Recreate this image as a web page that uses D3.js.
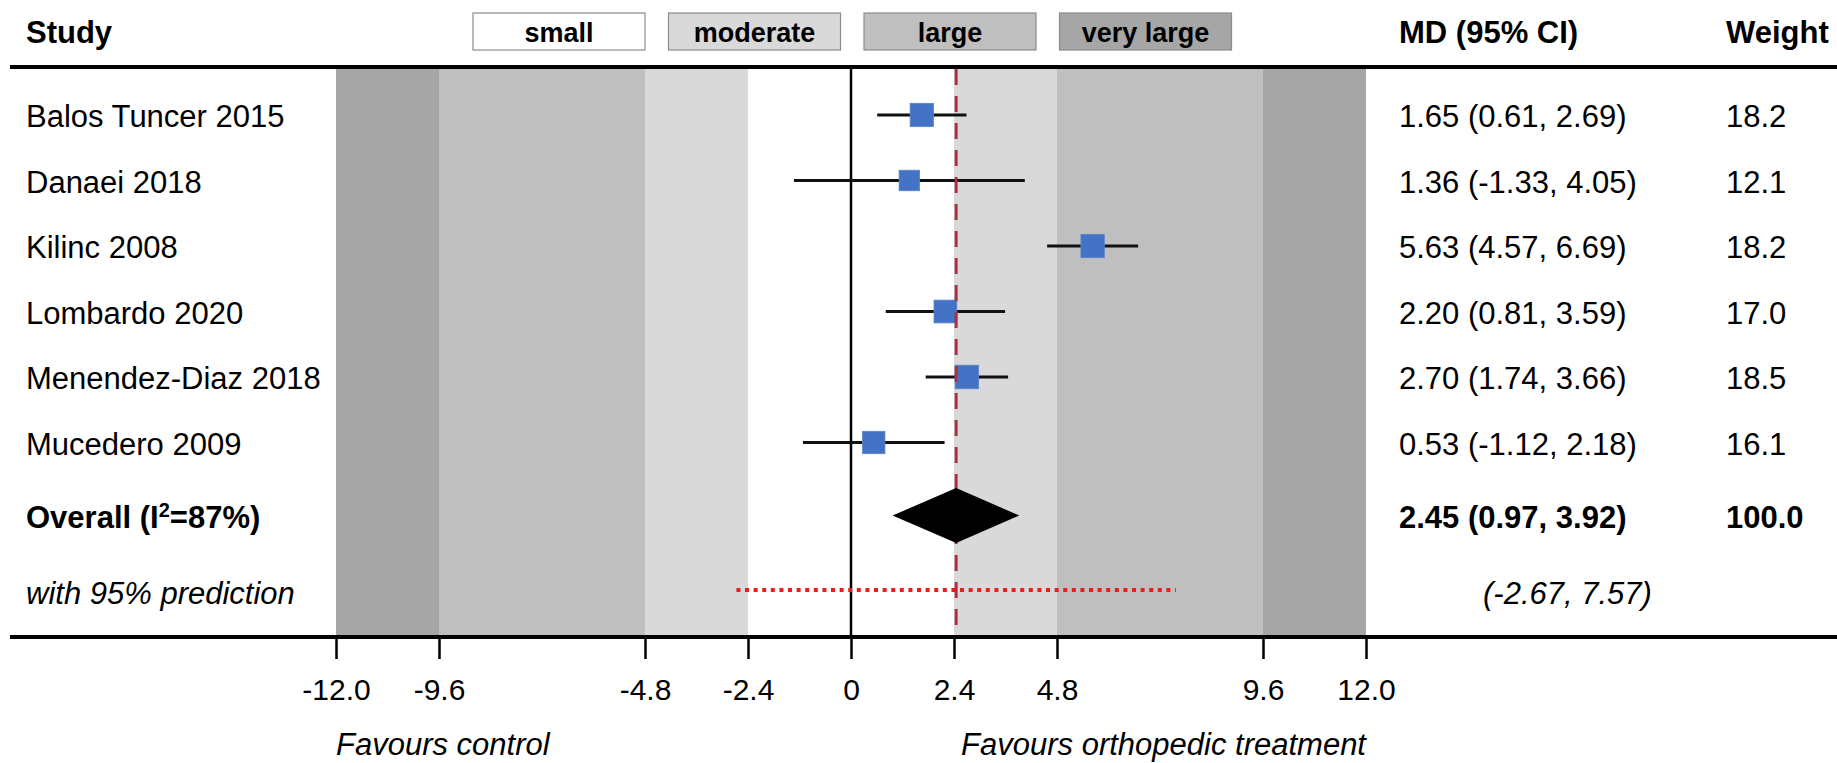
<!DOCTYPE html>
<html>
<head>
<meta charset="utf-8">
<script src="https://cdn.jsdelivr.net/npm/d3@7"></script>
<style>
    body { margin: 0; background: #fff; }
    svg { display: block; font-family: "Liberation Sans", Arial, sans-serif; }
</style>
</head>
<body>
<div id="chart"></div>
<script>
// study data
const studies = ["Balos Tuncer 2015", "Danaei 2018", "Kilinc 2008", "Lombardo 2020", "Menendez-Diaz 2018", "Mucedero 2009"];
const md = [1.65, 1.36, 5.63, 2.20, 2.70, 0.53];
const lower = [0.61, -1.33, 4.57, 0.81, 1.74, -1.12];
const upper = [2.69, 4.05, 6.69, 3.59, 3.66, 2.18];
const weights = [18.2, 12.1, 18.2, 17.0, 18.5, 16.1];

// pooled result: estimate, lower, upper
const overall = [2.45, 0.97, 3.92];
const overallWeight = 100.0;
const i2 = 87;
const prediction = [-2.67, 7.57];

// effect size regions
const effectLabels = ["small", "moderate", "large", "very large"];
const effectLimits = [2.4, 4.8, 9.6, 12];
const effectColors = ["#ffffff", "#d9d9d9", "#bfbfbf", "#a6a6a6"];

const tickValues = [-12, -9.6, -4.8, -2.4, 0, 2.4, 4.8, 9.6, 12];
const leftLabel = "Favours control";
const rightLabel = "Favours orthopedic treatment";

const width = 1837, height = 763;
const plotTop = 69, plotBottom = 635;
const headerY = 67, axisY = 637;
const fontSize = 31;

const svg = d3.select("#chart").append("svg")
    .attr("width", width)
    .attr("height", height);

const x = d3.scaleLinear().domain([-12, 12]).range([336, 1366]);
const rowY = d3.scaleLinear().domain([0, 1]).range([115, 180.5]);
const overallY = 515.5, predY = 590;
const boxSize = d3.scaleLinear().domain([12.1, 18.5]).range([20.5, 23.5]);

// shaded regions, both sides of zero
const bands = effectLimits.map((hi, i) => ({ lo: i === 0 ? 0 : effectLimits[i - 1], hi: hi, color: effectColors[i] }));
bands.forEach(b => {
    [[b.lo, b.hi], [-b.hi, -b.lo]].forEach(([a, c]) => {
        svg.append("rect")
            .attr("x", x(a))
            .attr("y", plotTop)
            .attr("width", x(c) - x(a))
            .attr("height", plotBottom - plotTop)
            .attr("fill", b.color);
    });
});

// legend boxes above the plot
const legend = svg.append("g").attr("transform", "translate(473,13)");
effectLabels.forEach((label, i) => {
    const g = legend.append("g").attr("transform", `translate(${i * 195.5},0)`);
    g.append("rect")
        .attr("width", 172)
        .attr("height", 37)
        .attr("fill", effectColors[i])
        .attr("stroke", "#8c8c8c")
        .attr("stroke-width", 1.2);
    g.append("text")
        .attr("x", 86)
        .attr("y", 29)
        .attr("text-anchor", "middle")
        .style("font-size", "27px")
        .style("font-weight", "bold")
        .text(label);
});

// header rule
svg.append("line")
    .attr("x1", 10).attr("x2", width)
    .attr("y1", headerY).attr("y2", headerY)
    .attr("stroke", "#000").attr("stroke-width", 4);

// no effect line
svg.append("line")
    .attr("x1", x(0)).attr("x2", x(0))
    .attr("y1", plotTop).attr("y2", plotBottom)
    .attr("stroke", "#000").attr("stroke-width", 2.5);

// confidence intervals
svg.selectAll(".ci")
    .data(studies)
    .enter()
    .append("line")
    .attr("class", "ci")
    .attr("x1", (d, i) => x(lower[i]))
    .attr("x2", (d, i) => x(upper[i]))
    .attr("y1", (d, i) => rowY(i))
    .attr("y2", (d, i) => rowY(i))
    .attr("stroke", "#111")
    .attr("stroke-width", 3);

// study estimates
svg.selectAll(".box")
    .data(studies)
    .enter()
    .append("rect")
    .attr("class", "box")
    .attr("x", (d, i) => x(md[i]) - boxSize(weights[i]) / 2)
    .attr("y", (d, i) => rowY(i) - boxSize(weights[i]) / 2)
    .attr("width", (d, i) => boxSize(weights[i]))
    .attr("height", (d, i) => boxSize(weights[i]))
    .attr("fill", "#4472c4")
    .attr("stroke", "#5a84cc")
    .attr("stroke-width", 0.8);

// pooled estimate line
svg.append("line")
    .attr("x1", x(overall[0])).attr("x2", x(overall[0]))
    .attr("y1", plotTop).attr("y2", plotBottom)
    .attr("stroke", "#a8323e")
    .attr("stroke-width", 3)
    .attr("stroke-dasharray", "16 11");

// pooled diamond
const dh = 27.5;
svg.append("path")
    .attr("d", `M${x(overall[1])},${overallY} L${x(overall[0])},${overallY - dh} L${x(overall[2])},${overallY} L${x(overall[0])},${overallY + dh} Z`)
    .attr("fill", "#000");

// prediction interval
svg.append("line")
    .attr("x1", x(prediction[0])).attr("x2", x(prediction[1]))
    .attr("y1", predY).attr("y2", predY)
    .attr("stroke", "#ee1c1c")
    .attr("stroke-width", 4)
    .attr("stroke-dasharray", "4 4.6");

// x axis
const axis = svg.append("g")
    .attr("transform", `translate(0,${axisY})`)
    .call(d3.axisBottom(x)
        .tickValues(tickValues)
        .tickSize(22)
        .tickPadding(20)
        .tickFormat(d => d === 0 ? "0" : d.toFixed(1)));
axis.select(".domain").remove();
axis.selectAll(".tick line").attr("stroke", "#000").attr("stroke-width", 2.5);
axis.selectAll(".tick text")
    .attr("fill", "#000")
    .style("font-size", "30px")
    .style("font-family", '"Liberation Sans", Arial, sans-serif');

svg.append("line")
    .attr("x1", 10).attr("x2", width)
    .attr("y1", axisY).attr("y2", axisY)
    .attr("stroke", "#000").attr("stroke-width", 4);

svg.append("text")
    .attr("x", x(-12)).attr("y", 755)
    .style("font-size", fontSize + "px").style("font-style", "italic")
    .text(leftLabel);
svg.append("text")
    .attr("x", x(12)).attr("y", 755)
    .attr("text-anchor", "end")
    .style("font-size", fontSize + "px").style("font-style", "italic")
    .text(rightLabel);

// table text
const colStudy = 26, colMd = 1399, colWeight = 1726;
const text = (xp, yp, str, bold, italic) => svg.append("text")
    .attr("x", xp).attr("y", yp + 12)
    .style("font-size", fontSize + "px")
    .style("font-weight", bold ? "bold" : "normal")
    .style("font-style", italic ? "italic" : "normal")
    .text(str);

text(colStudy, 31, "Study", true);
text(colMd, 31, "MD (95% CI)", true);
text(colWeight, 31, "Weight", true);

studies.forEach((s, i) => {
    text(colStudy, rowY(i), s);
    text(colMd, rowY(i), `${md[i].toFixed(2)} (${lower[i].toFixed(2)}, ${upper[i].toFixed(2)})`);
    text(colWeight, rowY(i), weights[i].toFixed(1));
});

const ov = text(colStudy, overallY, "Overall (I", true);
ov.append("tspan").attr("dy", -11).style("font-size", "20px").text("2");
ov.append("tspan").attr("dy", 11).text(`=${i2}%)`);
text(colMd, overallY, `${overall[0].toFixed(2)} (${overall[1].toFixed(2)}, ${overall[2].toFixed(2)})`, true);
text(colWeight, overallY, overallWeight.toFixed(1), true);

text(colStudy, predY + 2, "with 95% prediction", false, true);
text(1483, predY + 2, `(${prediction[0].toFixed(2)}, ${prediction[1].toFixed(2)})`, false, true);
</script>
</body>
</html>
